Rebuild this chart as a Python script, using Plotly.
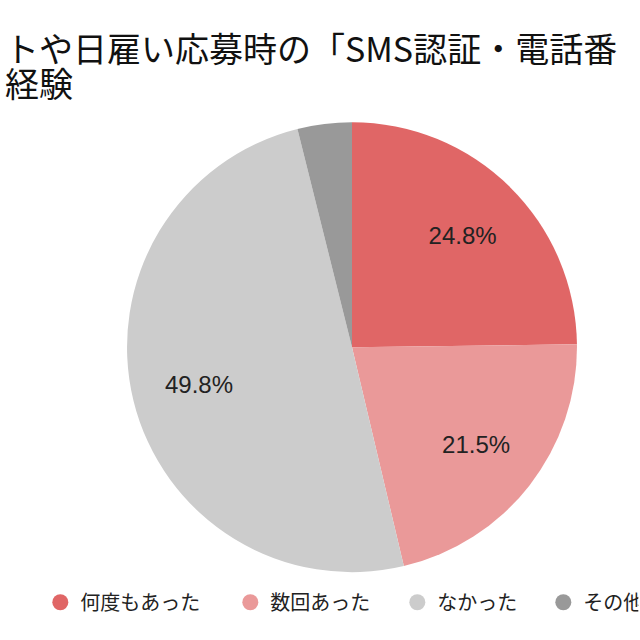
import plotly.graph_objects as go

labels = ["何度もあった", "数回あった", "なかった", "その他"]
values = [24.8, 21.5, 49.8, 3.9]
colors = ["#e06666", "#ea9999", "#cccccc", "#999999"]
title_lines = ["トや日雇い応募時の「SMS認証・電話番", "経験"]
show_text = [True, True, True, False]
legend_widths = [145, 122, 101, 50]

pie_domain = dict(x=[0.1984, 0.9016], y=[0.106, 0.809])

fig = go.Figure()
# filled pie
fig.add_trace(go.Pie(
    labels=labels, values=values, sort=False, direction="clockwise", rotation=0,
    marker=dict(colors=colors, line=dict(width=0)),
    textinfo="none",
    domain=pie_domain, showlegend=False, hoverinfo="label+percent",
))
# transparent ring carrying the percentage labels
fig.add_trace(go.Pie(
    labels=labels, values=values, sort=False, direction="clockwise", rotation=0,
    hole=0.40,
    marker=dict(colors=["rgba(0,0,0,0)"] * len(labels), line=dict(width=0)),
    texttemplate=["%{percent:.1%}" if s else "" for s in show_text],
    textposition="inside", insidetextorientation="horizontal",
    textfont=dict(family="Liberation Sans, Arial, sans-serif", size=24, color="#222222"),
    domain=pie_domain, showlegend=False, hoverinfo="skip",
))
for lab, col, lw in zip(labels, colors, legend_widths):
    fig.add_trace(go.Scatter(
        x=[None], y=[None], mode="markers", name=lab,
        marker=dict(symbol="circle", size=18, color=col),
        showlegend=True, legendwidth=lw,
    ))

for i, (line, ys) in enumerate(zip(title_lines, [-21, -56])):
    fig.add_annotation(
        text=line, xref="paper", yref="paper", x=0, y=1,
        xanchor="left", yanchor="top", align="left", xshift=3, yshift=ys, showarrow=False,
        font=dict(family="Noto Sans CJK JP", size=34, color="#111111"),
    )

fig.update_layout(
    width=640, height=640,
    margin=dict(l=0, r=0, t=0, b=0),
    paper_bgcolor="white", plot_bgcolor="white",
    xaxis=dict(visible=False), yaxis=dict(visible=False),
    legend=dict(
        orientation="h", x=0.063, y=0.059, xanchor="left", yanchor="middle",
        font=dict(family="Noto Sans CJK JP", size=20, color="#222222"),
        itemsizing="trace", bgcolor="rgba(0,0,0,0)",
    ),
)

fig.write_html("out.html")
